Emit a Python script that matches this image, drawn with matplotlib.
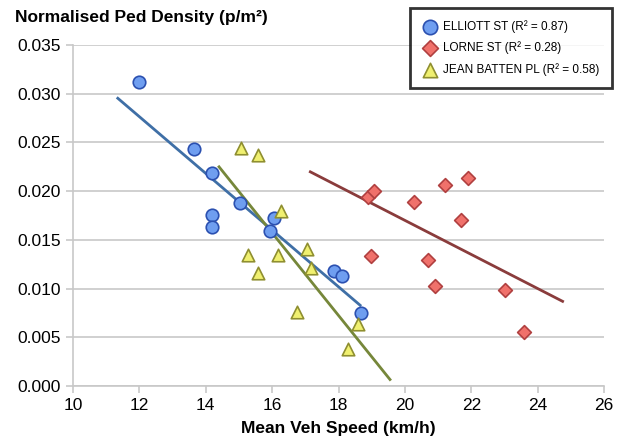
import numpy as np
import matplotlib
matplotlib.use("Agg")
import matplotlib.pyplot as plt

plt.rcParams["font.family"] = ["Liberation Sans", "DejaVu Sans"]

# ELLIOTT ST
elliott_x = [12.0, 13.64, 14.2, 14.2, 14.2, 15.03, 16.05, 15.93, 17.86, 18.1, 18.67]
elliott_y = [0.0312, 0.0243, 0.0219, 0.0176, 0.0163, 0.0188, 0.0172, 0.0159, 0.0118, 0.0113, 0.0075]
# LORNE ST
lorne_x = [18.9, 19.07, 18.97, 20.27, 21.2, 21.9, 21.7, 20.7, 20.9, 23.0, 23.6]
lorne_y = [0.0194, 0.0200, 0.0133, 0.0189, 0.0206, 0.0213, 0.0170, 0.0129, 0.0103, 0.0099, 0.0055]
# JEAN BATTEN PL
jean_x = [15.06, 15.57, 16.27, 15.27, 15.57, 16.17, 17.05, 17.17, 16.75, 18.58, 18.28]
jean_y = [0.0244, 0.0237, 0.0180, 0.0134, 0.0116, 0.0134, 0.0141, 0.0121, 0.0076, 0.0064, 0.0038]

labels = ["ELLIOTT ST (R² = 0.87)", "LORNE ST (R² = 0.28)", "JEAN BATTEN PL (R² = 0.58)"]
# trendline x-extents
elliott_range = [11.35, 18.65]
lorne_range = [17.15, 24.75]
jean_range = [14.4, 19.55]

fig = plt.figure(figsize=(6.26, 4.48), dpi=100)
ax = fig.add_axes([0.1166, 0.1384, 0.965 - 0.1166, 0.8996 - 0.1384])

series = [
    (elliott_x, elliott_y, elliott_range, "o", "#6f9ef0", "#2b50b0", "#3f6fa6", 9),
    (lorne_x, lorne_y, lorne_range, "D", "#f0716b", "#b04040", "#8a3c3c", 7),
    (jean_x, jean_y, jean_range, "^", "#f0f070", "#8f8f30", "#76873a", 9),
]

handles = []
for (xs, ys, rng, mk, fc, ec, lc, ms), lab in zip(series, labels):
    # linear trendline
    m, b = np.polyfit(xs, ys, 1)
    tx = np.array(rng)
    ax.plot(tx, m * tx + b, color=lc, lw=2, zorder=2)
for (xs, ys, rng, mk, fc, ec, lc, ms), lab in zip(series, labels):
    h = ax.scatter(xs, ys, marker=mk, s=ms ** 2, facecolor=fc, edgecolor=ec,
                   linewidth=1.2, zorder=3, label=lab)
    handles.append(h)

ax.set_xlim(10, 26)
ax.set_ylim(0, 0.035)
ax.set_xticks(range(10, 27, 2))
ax.set_yticks(np.arange(0, 0.0351, 0.005))
ax.yaxis.set_major_formatter(plt.FormatStrFormatter("%.3f"))
ax.grid(axis="y", color="#c8c8c8", lw=1.2)
ax.set_axisbelow(True)
for s in ["top", "right"]:
    ax.spines[s].set_visible(False)
for s in ["left", "bottom"]:
    ax.spines[s].set_color("#c8c8c8")
    ax.spines[s].set_linewidth(1.2)
ax.tick_params(colors="#c8c8c8", labelcolor="black", labelsize=12.5, length=5, width=1.2)

ax.set_xlabel("Mean Veh Speed (km/h)", fontsize=12.5, fontweight="bold", labelpad=6)
fig.text(0.024, 0.96, "Normalised Ped Density (p/m²)", fontsize=12.5, fontweight="bold",
         ha="left", va="center")

leg = fig.legend(handles=handles, loc="upper right", bbox_to_anchor=(0.977, 0.982),
                 fontsize=8.5, frameon=True, fancybox=False, borderpad=1.0,
                 handletextpad=0.5, labelspacing=0.75, handlelength=1.3,
                 markerscale=1.15, borderaxespad=0)
leg.get_frame().set_edgecolor("black")
leg.get_frame().set_linewidth(2)

fig.savefig("out.png", dpi=100)
